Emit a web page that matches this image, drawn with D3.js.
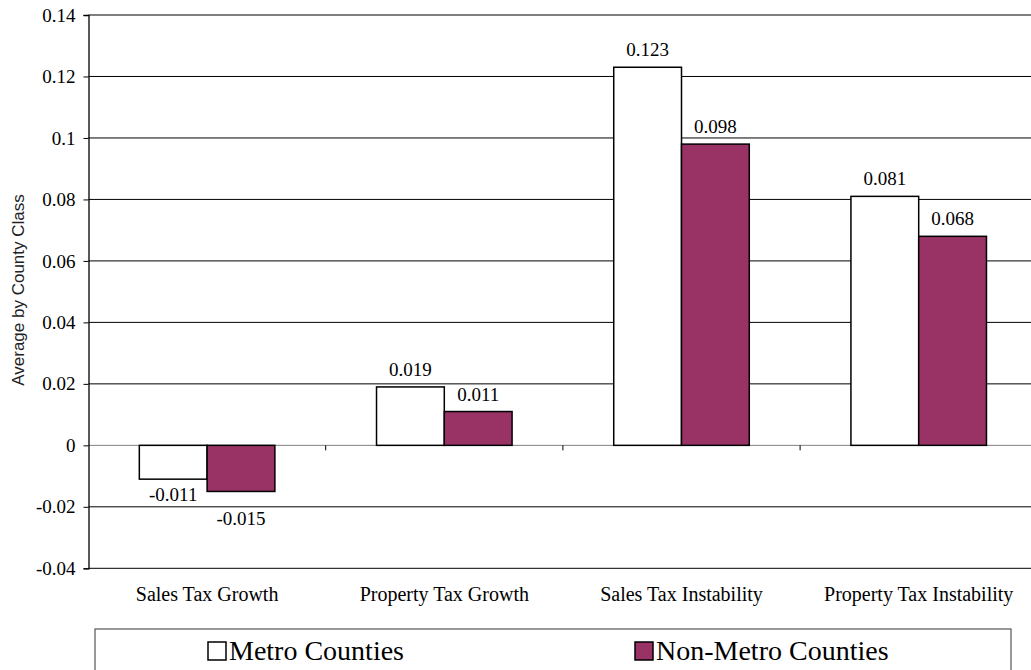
<!DOCTYPE html>
<html>
<head>
<meta charset="utf-8">
<script src="https://cdn.jsdelivr.net/npm/d3@7"></script>
<style>
  body { margin: 0; background: #fff; }
  svg { display: block; }
  .serif { font-family: "Liberation Serif", "DejaVu Serif", serif; }
</style>
</head>
<body>
<svg id="chart" width="1031" height="670"></svg>
<script>
// Chart data
const categories = ["Sales Tax Growth", "Property Tax Growth", "Sales Tax Instability", "Property Tax Instability"];
const seriesNames = ["Metro Counties", "Non-Metro Counties"];
const metroValues = [-0.011, 0.019, 0.123, 0.081];
const nonMetroValues = [-0.015, 0.011, 0.098, 0.068];
const yTicks = [-0.04, -0.02, 0, 0.02, 0.04, 0.06, 0.08, 0.1, 0.12, 0.14];

const colors = ["#ffffff", "#993366"];
const fmt = d3.formatLocale({ decimal: ".", thousands: ",", grouping: [3], currency: ["", ""], minus: "-" });

const svg = d3.select("#chart");

// plot area (runs a bit past the right edge, like the original)
const plotLeft = 88.5, plotRight = 1037.3, plotTop = 15, plotBottom = 568.3;

const x = d3.scaleBand()
    .domain(categories)
    .range([plotLeft, plotRight])
    .paddingInner(0)
    .paddingOuter(0);

// Excel style: gap width 150% of a bar -> 0.75 bar on each side
const x1 = d3.scaleBand()
    .domain(seriesNames)
    .range([0, x.bandwidth()])
    .paddingInner(0)
    .paddingOuter(0.75);

const y = d3.scaleLinear()
    .domain([-0.04, 0.14])
    .range([plotBottom, plotTop]);

// Gridlines
svg.append("g")
    .selectAll("line")
    .data(yTicks)
    .enter().append("line")
    .attr("x1", plotLeft)
    .attr("x2", plotRight)
    .attr("y1", d => y(d))
    .attr("y2", d => y(d))
    .attr("stroke", d => d === 0 ? "#808080" : "#000")
    .attr("stroke-width", 1);

// Y axis
const yAxis = svg.append("g")
    .attr("transform", `translate(${plotLeft},0)`)
    .call(d3.axisLeft(y).tickValues(yTicks).tickSize(5).tickPadding(8).tickFormat(d => String(+d.toFixed(2))));
yAxis.select(".domain").attr("stroke", "#000").attr("stroke-width", 1.3);
yAxis.selectAll(".tick line").attr("stroke", "#000");
yAxis.selectAll("text")
    .attr("class", "serif")
    .attr("font-family", null)
    .style("font-size", "19px")
    .attr("fill", "#000");

// category tick marks on the zero line
svg.append("g")
    .selectAll("line")
    .data(categories.slice(1))
    .enter().append("line")
    .attr("x1", d => x(d))
    .attr("x2", d => x(d))
    .attr("y1", y(0))
    .attr("y2", y(0) + 5)
    .attr("stroke", "#000");

// Category labels
svg.append("g")
    .selectAll("text")
    .data(categories)
    .enter().append("text")
    .attr("class", "serif")
    .attr("x", d => x(d) + x.bandwidth() / 2)
    .attr("y", 601)
    .attr("text-anchor", "middle")
    .style("font-size", "20px")
    .text(d => d);

// Y axis title
svg.append("text")
    .attr("transform", "translate(24,290) rotate(-90)")
    .attr("text-anchor", "middle")
    .style("font-family", "'Liberation Sans', Arial, sans-serif")
    .style("font-size", "17px")
    .attr("fill", "#222")
    .text("Average by County Class");

// Bars
const rows = categories.map((c, i) => ({
  category: c,
  values: [metroValues[i], nonMetroValues[i]]
}));

const groups = svg.append("g")
    .selectAll("g")
    .data(rows)
    .enter().append("g")
    .attr("transform", d => `translate(${x(d.category)},0)`);

groups.selectAll("rect")
    .data(d => d.values.map((v, i) => ({ name: seriesNames[i], value: v, i: i })))
    .enter().append("rect")
    .attr("x", d => x1(d.name))
    .attr("width", x1.bandwidth())
    .attr("y", d => y(Math.max(0, d.value)))
    .attr("height", d => Math.abs(y(d.value) - y(0)))
    .attr("fill", d => colors[d.i])
    .attr("stroke", "#000")
    .attr("stroke-width", 1.5);

// Data labels
groups.selectAll("text")
    .data(d => d.values.map((v, i) => ({ name: seriesNames[i], value: v, i: i })))
    .enter().append("text")
    .attr("class", "serif")
    .attr("x", d => x1(d.name) + x1.bandwidth() / 2)
    .attr("y", d => d.value >= 0 ? y(d.value) - 11 : y(d.value) + (d.i === 0 ? 22 : 34))
    .attr("text-anchor", "middle")
    .style("font-size", "19px")
    .text(d => fmt.format(".3f")(d.value));

// Legend
const legend = svg.append("g").attr("transform", "translate(95,629)");
legend.append("rect")
    .attr("x", 0)
    .attr("y", 0)
    .attr("width", 916)
    .attr("height", 60)
    .attr("fill", "#fff")
    .attr("stroke", "#555")
    .attr("stroke-width", 1.2);

const legendX = [113, 540];
const items = legend.selectAll(".item")
    .data(seriesNames)
    .enter().append("g")
    .attr("class", "item")
    .attr("transform", (d, i) => `translate(${legendX[i]},13)`);

items.append("rect")
    .attr("width", 18)
    .attr("height", 18)
    .attr("fill", (d, i) => colors[i])
    .attr("stroke", "#000")
    .attr("stroke-width", 1.5);

items.append("text")
    .attr("class", "serif")
    .attr("x", 21)
    .attr("y", 18)
    .style("font-size", "28px")
    .text(d => d);
</script>
</body>
</html>
